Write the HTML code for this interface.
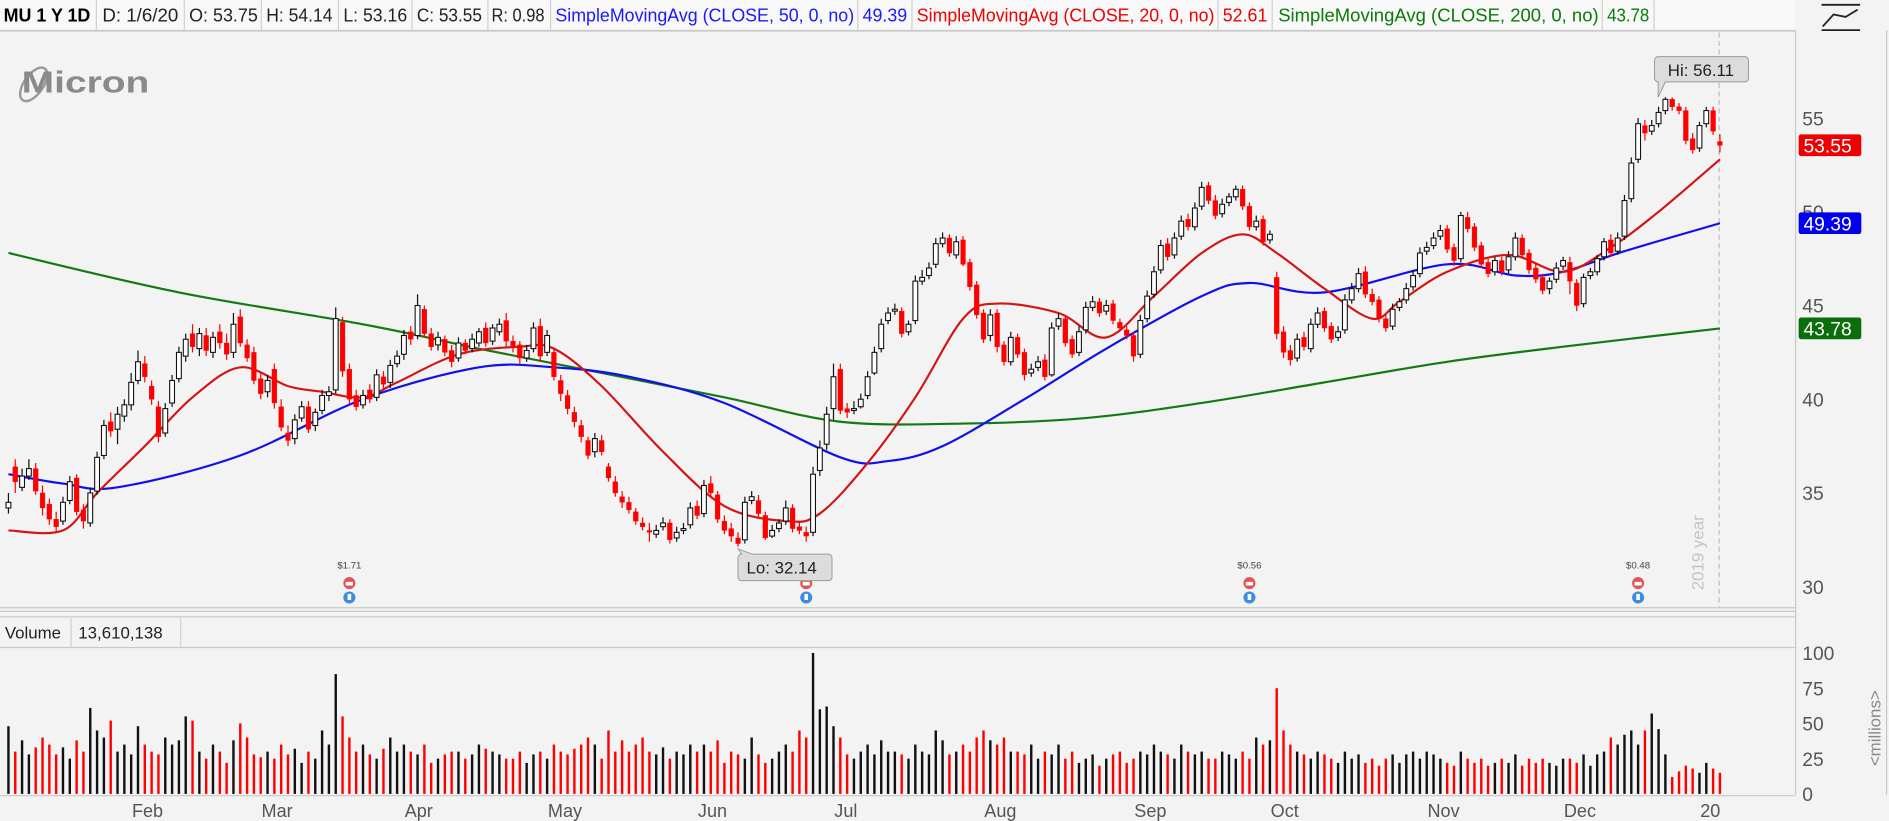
<!DOCTYPE html>
<html><head><meta charset="utf-8"><style>
html,body{margin:0;padding:0;background:#f3f3f3;overflow:hidden}
svg{display:block}
text{font-family:"Liberation Sans",sans-serif}
</style></head><body>
<svg id="chart" width="1889" height="821" viewBox="0 0 1568 681.5" preserveAspectRatio="none" xmlns="http://www.w3.org/2000/svg">
<rect x="0" y="0" width="1568" height="681.5" fill="#f3f3f3"/>
<g>
<rect x="0" y="0" width="1490" height="25" fill="#f8f8f8"/>
<line x1="0" y1="25.5" x2="1490" y2="25.5" stroke="#c8c8c8" stroke-width="1.5"/>
<text x="3" y="18" font-size="15" font-weight="bold" textLength="72" lengthAdjust="spacingAndGlyphs">MU 1 Y 1D</text>
<text x="85" y="18" font-size="15" fill="#222" textLength="63" lengthAdjust="spacingAndGlyphs">D: 1/6/20</text>
<text x="157" y="18" font-size="15" fill="#222" textLength="57" lengthAdjust="spacingAndGlyphs">O: 53.75</text>
<text x="221" y="18" font-size="15" fill="#222" textLength="55" lengthAdjust="spacingAndGlyphs">H: 54.14</text>
<text x="285" y="18" font-size="15" fill="#222" textLength="53" lengthAdjust="spacingAndGlyphs">L: 53.16</text>
<text x="346" y="18" font-size="15" fill="#222" textLength="54" lengthAdjust="spacingAndGlyphs">C: 53.55</text>
<text x="408" y="18" font-size="15" fill="#222" textLength="44" lengthAdjust="spacingAndGlyphs">R: 0.98</text>
<text x="461" y="18" font-size="15" fill="#1a1aff" textLength="248" lengthAdjust="spacingAndGlyphs">SimpleMovingAvg (CLOSE, 50, 0, no)</text>
<text x="716" y="18" font-size="15" fill="#1a1aff" textLength="37" lengthAdjust="spacingAndGlyphs">49.39</text>
<text x="761" y="18" font-size="15" fill="#e00" textLength="247" lengthAdjust="spacingAndGlyphs">SimpleMovingAvg (CLOSE, 20, 0, no)</text>
<text x="1015" y="18" font-size="15" fill="#e00" textLength="37" lengthAdjust="spacingAndGlyphs">52.61</text>
<text x="1061" y="18" font-size="15" fill="#0a7a0a" textLength="266" lengthAdjust="spacingAndGlyphs">SimpleMovingAvg (CLOSE, 200, 0, no)</text>
<text x="1334" y="18" font-size="15" fill="#0a7a0a" textLength="35" lengthAdjust="spacingAndGlyphs">43.78</text>
<g stroke="#d0d0d0" stroke-width="1">
<line x1="80" y1="0" x2="80" y2="25"/><line x1="153" y1="0" x2="153" y2="25"/><line x1="217" y1="0" x2="217" y2="25"/><line x1="281" y1="0" x2="281" y2="25"/><line x1="342" y1="0" x2="342" y2="25"/><line x1="405" y1="0" x2="405" y2="25"/><line x1="457" y1="0" x2="457" y2="25"/><line x1="712" y1="0" x2="712" y2="25"/><line x1="757" y1="0" x2="757" y2="25"/><line x1="1011" y1="0" x2="1011" y2="25"/><line x1="1056" y1="0" x2="1056" y2="25"/><line x1="1330" y1="0" x2="1330" y2="25"/><line x1="1373" y1="0" x2="1373" y2="25"/>
</g>
</g>
<g>
<ellipse cx="28" cy="70" rx="8" ry="16" transform="rotate(35 28 70)" fill="none" stroke="#999" stroke-width="2"/>
<text x="18" y="77" font-size="25" font-weight="bold" fill="#8a8a8a" textLength="106" lengthAdjust="spacingAndGlyphs">Micron</text>
</g>
<g stroke="#c8c8c8" fill="none">
<line x1="1490.5" y1="25" x2="1490.5" y2="660"/>
<line x1="0" y1="504.5" x2="1490" y2="504.5"/>
<line x1="0" y1="507.5" x2="1490" y2="507.5"/>
<line x1="0" y1="512" x2="1490" y2="512"/>
<line x1="0" y1="537.5" x2="1490" y2="537.5"/>
<line x1="0" y1="660.5" x2="1490" y2="660.5"/>
<line x1="1566" y1="25" x2="1566" y2="660"/>
</g>
<g stroke="#222" stroke-width="1.5" fill="none">
<line x1="1512" y1="4" x2="1544" y2="4"/><line x1="1512" y1="25" x2="1544" y2="25"/><path d="M1513 22 L1522 12 L1532 14 L1542 8"/>
</g>
<text x="4" y="530" font-size="14" fill="#222">Volume</text>
<line x1="59" y1="513" x2="59" y2="537" stroke="#d0d0d0"/>
<text x="65" y="530" font-size="14" fill="#222">13,610,138</text>
<line x1="150" y1="513" x2="150" y2="537" stroke="#d0d0d0"/>
<line x1="1427" y1="27" x2="1427" y2="504" stroke="#bbb" stroke-dasharray="4,3"/>
<text transform="translate(1414,490) rotate(-90)" font-size="14" fill="#c4c4c4">2019 year</text>
<text transform="translate(1561,636) rotate(-90)" font-size="14" fill="#888">&lt;millions&gt;</text>
<g id="plot"></g>
</svg>
<script>
const opens=[34.2,36.4,35.3,35.9,36.3,35.0,34.4,33.6,33.5,34.6,35.8,34.1,33.4,35.1,37.0,38.8,38.4,39.1,39.7,
41.0,41.9,40.7,39.6,38.2,39.8,41.1,42.3,43.5,42.7,43.4,42.5,43.6,43.0,42.5,44.4,42.9,42.5,41.1,
40.4,41.6,39.6,38.2,37.9,39.0,39.6,38.6,39.4,40.2,40.5,44.1,41.6,40.2,39.7,40.5,40.1,41.2,40.9,41.9,42.4,
43.6,43.4,44.8,43.5,42.9,43.2,42.6,42.2,43.0,42.7,43.0,43.8,43.1,43.6,44.2,43.1,42.9,42.2,42.7,43.9,42.5,
42.5,41.0,40.2,39.3,38.6,37.8,37.2,37.8,36.4,35.6,34.8,34.5,34.0,33.4,33.0,32.8,33.2,33.4,32.6,33.0,33.3,34.3,
33.9,35.5,34.9,33.5,33.1,32.6,32.5,34.6,34.6,33.8,32.7,33.1,33.5,34.2,33.2,32.9,32.9,36.2,37.6,39.5,
41.6,39.5,39.4,39.6,40.2,41.4,42.7,44.2,44.7,44.7,43.6,44.2,46.3,46.6,47.2,48.3,48.6,47.7,48.5,47.3,46.1,44.6,
43.4,44.6,42.9,42.0,43.3,42.5,41.4,41.7,42.1,41.3,43.9,44.3,43.2,42.5,43.7,44.9,45.2,44.7,45.1,44.1,43.7,43.4,
42.4,44.3,45.6,46.9,48.3,47.7,48.7,49.6,49.2,50.3,51.4,50.6,49.9,50.5,50.8,51.2,50.3,49.2,49.6,48.5,
46.5,43.6,42.6,42.2,43.3,42.7,44.0,44.7,43.9,43.3,43.7,45.3,45.9,46.8,45.6,45.3,44.3,43.9,44.9,45.3,46.0,46.7,47.9,
48.2,48.7,49.1,48.1,47.5,49.7,49.2,48.2,47.3,46.8,47.4,46.9,47.6,48.6,47.8,47.0,46.5,45.9,46.4,47.1,
47.3,46.2,45.1,46.6,46.8,47.6,48.5,47.9,48.7,50.7,52.8,54.6,54.3,54.7,55.4,56.0,55.6,55.4,53.9,53.4,
54.7,55.4,53.75];
const highs=[35.0,36.8,36.3,36.8,36.6,35.4,34.7,34.0,34.8,35.9,36.0,34.4,35.3,37.2,38.9,39.3,39.6,40.0,41.4,
42.6,42.3,41.0,39.9,39.8,41.3,42.8,43.5,44.0,43.8,43.8,43.6,44.0,43.5,44.6,44.8,43.2,42.8,41.4,
41.3,41.9,40.0,38.6,39.2,39.9,39.9,39.5,40.5,40.7,44.9,44.4,41.9,40.5,40.5,40.8,41.6,41.5,42.1,42.6,43.7,
43.9,45.6,45.0,43.8,43.6,43.4,42.9,43.3,43.2,43.5,43.8,44.1,44.0,44.3,44.6,43.4,43.1,42.9,44.1,44.3,43.7,
42.7,41.3,40.5,39.6,38.9,38.0,38.2,38.1,36.6,35.9,35.1,34.8,34.2,33.7,33.4,33.3,33.7,33.6,33.2,33.4,34.5,34.6,
35.7,35.9,35.1,33.8,33.4,32.9,34.8,35.1,34.9,34.0,33.3,33.6,34.6,34.4,33.5,33.2,36.4,37.8,39.6,41.9,
41.9,39.8,39.9,40.3,41.5,42.8,44.3,44.9,45.1,44.9,44.2,46.6,46.9,47.3,48.6,48.9,48.8,48.7,48.7,47.5,46.3,44.8,
44.8,44.8,43.1,43.6,43.5,42.7,41.9,42.3,42.4,44.1,44.6,44.5,43.4,43.9,45.2,45.5,45.4,45.3,45.3,44.3,43.9,43.6,
44.5,45.8,47.1,48.5,48.6,48.9,49.8,49.9,50.5,51.6,51.6,50.9,50.7,51.0,51.4,51.4,50.5,49.8,49.8,49.0,
46.8,43.9,42.9,43.5,43.6,44.3,44.9,44.9,44.1,43.9,45.6,46.2,47.0,47.1,45.9,45.5,44.5,45.1,45.4,46.2,46.9,48.1,48.4,
48.9,49.3,49.3,48.3,50.0,50.0,49.4,48.4,47.5,47.6,47.6,47.9,48.9,48.8,48.0,47.2,46.7,46.5,47.3,47.6,
47.6,46.4,46.7,47.0,47.7,48.6,48.8,48.9,50.9,52.9,55.0,54.9,54.9,55.6,56.11,56.1,55.8,55.6,54.2,54.8,
55.6,55.6,54.14];
const lows=[33.9,35.0,35.1,35.7,34.9,33.8,33.3,32.9,33.3,34.4,33.8,33.1,33.2,34.9,36.8,38.0,37.6,38.8,39.4,
40.8,40.9,39.7,37.7,38.0,39.6,40.9,42.0,42.5,42.3,42.3,42.2,42.7,42.1,42.2,42.8,42.0,40.8,40.0,
40.1,39.5,38.3,37.5,37.6,38.8,38.2,38.3,39.2,39.9,40.3,41.2,39.7,39.4,39.5,39.8,39.9,40.6,40.6,41.7,42.1,
42.9,43.2,43.3,42.6,42.6,42.3,41.7,42.0,42.4,42.5,42.8,42.8,42.9,43.4,42.8,42.5,41.9,42.0,42.5,42.0,42.3,
41.0,39.9,39.2,38.5,37.7,36.8,36.9,37.0,35.6,34.8,34.2,33.9,33.3,33.0,32.4,32.6,33.0,32.3,32.4,32.8,33.1,33.6,
33.7,34.8,33.4,32.8,32.4,32.14,32.3,34.4,33.7,32.5,32.6,32.9,33.3,32.9,32.8,32.4,32.7,35.9,37.3,38.9,
39.2,39.0,39.2,39.5,40.0,41.3,42.5,44.0,44.5,43.3,43.4,44.0,46.1,46.4,47.0,48.1,47.6,47.5,47.1,45.8,44.3,43.0,
43.1,42.5,41.8,41.8,42.2,41.0,41.2,41.5,41.0,41.2,43.7,42.8,42.2,42.3,43.5,44.7,44.4,44.5,44.0,43.6,43.2,42.0,
42.2,44.1,45.4,46.7,47.4,47.5,48.5,49.0,49.0,50.1,50.4,49.6,49.7,50.3,50.6,50.1,49.0,49.0,48.2,48.3,
43.2,42.2,41.8,42.0,42.6,42.5,43.8,43.6,43.0,43.1,43.5,45.1,45.7,45.4,45.0,44.1,43.6,43.7,44.7,45.1,45.8,46.5,47.7,
48.0,48.5,47.8,47.1,47.3,48.9,47.9,47.0,46.5,46.6,46.6,46.7,47.4,47.5,46.7,46.2,45.6,45.6,46.2,46.9,
45.6,44.7,44.9,46.4,46.6,47.4,47.6,47.7,48.5,50.5,52.6,53.8,54.1,54.5,55.2,55.4,55.2,53.6,53.1,53.2,
54.5,54.1,53.16];
const closes=[34.5,35.6,35.9,36.3,35.1,34.2,33.6,33.2,34.5,35.6,34.0,33.5,35.0,36.9,38.6,38.3,39.2,39.7,40.9,
42.0,41.2,40.0,38.0,39.5,41.0,42.5,43.2,42.8,43.5,42.6,43.3,43.0,42.4,44.0,43.0,42.2,41.0,40.3,
41.0,39.8,38.5,37.8,38.9,39.6,38.4,39.3,40.2,40.4,44.3,41.5,40.0,39.6,40.2,40.0,41.3,40.8,41.8,42.3,43.4,
43.2,45.0,43.5,42.8,43.3,42.5,42.0,43.0,42.6,43.2,43.6,43.0,43.8,44.0,43.1,42.8,42.2,42.6,43.8,42.3,43.4,
41.2,40.3,39.5,38.8,38.0,37.0,37.9,37.2,35.8,35.0,34.5,34.1,33.5,33.2,32.9,33.0,33.4,32.5,32.9,33.1,34.2,33.8,
35.4,35.0,33.6,33.0,32.7,32.3,34.5,34.8,33.9,32.6,33.0,33.4,34.2,33.1,33.0,32.7,36.0,37.4,39.2,41.2,
39.4,39.3,39.5,40.0,41.2,42.5,44.0,44.6,44.8,43.5,44.0,46.3,46.5,47.0,48.3,48.6,47.8,48.4,47.2,46.0,44.5,43.2,
44.5,42.8,42.0,43.3,42.4,41.3,41.6,42.0,41.2,43.8,44.3,43.0,42.4,43.6,44.9,45.2,44.6,45.0,44.2,43.8,43.4,42.3,
44.2,45.5,46.8,48.2,47.6,48.6,49.5,49.2,50.2,51.3,50.6,49.8,50.4,50.8,51.2,50.3,49.2,49.5,48.4,48.8,
43.5,42.5,42.1,43.2,42.8,44.0,44.6,43.8,43.2,43.6,45.3,45.9,46.7,45.6,45.2,44.3,43.8,44.8,45.2,45.9,46.6,47.8,48.1,
48.6,49.0,48.0,47.4,49.8,49.1,48.1,47.2,46.7,47.4,46.8,47.6,48.6,47.7,46.9,46.4,45.8,46.3,47.0,47.4,
46.3,45.0,46.5,46.8,47.5,48.4,47.8,48.6,50.6,52.6,54.7,54.2,54.6,55.3,56.0,55.6,55.4,53.8,53.3,54.6,
55.4,54.3,53.55];
const volumes=[48,30,38,28,33,40,35,28,33,25,38,30,61,45,40,52,30,35,28,
48,35,30,28,40,35,38,55,52,30,25,35,30,22,38,50,40,28,26,
30,25,35,28,32,22,30,25,45,35,85,55,40,30,35,28,25,32,40,30,35,
30,28,35,22,25,28,30,30,25,28,35,32,30,28,25,25,30,22,28,30,25,
35,30,28,32,35,40,35,25,45,30,38,30,35,40,30,28,33,25,30,28,35,30,
35,30,38,22,30,28,25,40,28,22,25,30,35,30,45,40,100,60,62,48,
40,28,25,30,35,28,38,30,30,28,25,35,30,28,45,38,28,30,35,30,40,45,
38,35,40,30,30,28,35,25,30,28,35,25,30,22,25,28,20,25,28,30,22,25,
30,28,35,30,28,25,35,30,28,30,25,25,30,28,25,30,25,40,35,38,
75,45,35,30,28,25,30,28,25,22,30,25,28,22,25,20,25,28,22,28,30,25,30,
28,25,22,20,30,25,22,25,20,22,25,22,28,20,25,22,25,22,20,25,
25,22,28,20,28,30,40,35,42,45,35,45,57,46,28,12,16,20,18,15,
22,18,15];
const sma200Days=[0,25,52,69,87,105,122,140,158,175,193,211,228,251];
const sma200Vals=[47.8,45.7,44.0,42.7,41.4,40.1,38.8,38.7,39.0,39.8,40.9,42.0,42.8,43.78];
const sma50Days=[0,8,16,34,52,69,80,91,105,122,129,137,149,161,175,182,193,211,221,228,237,251];
const sma50Vals=[36,35.5,35.3,37,40,41.7,41.7,41.2,39.8,36.9,36.7,37.5,40,42.7,45.5,46.2,45.7,47.2,46.6,46.8,47.9,49.39];
const sma20Days=[0,8,13,20,27,34,41,46,52,57,66,75,80,87,96,105,114,119,126,133,140,145,154,161,168,175,181,186,193,200,204,211,220,228,235,242,251];
const sma20Vals=[33,33,35,37.5,40.1,41.7,40.7,40.4,40.1,40.9,42.4,42.8,42.7,40.7,37.2,34.3,33.5,33.9,36.6,40.1,44.3,45.1,44.6,43.3,45.5,47.8,48.8,47.8,45.9,44.3,45.2,46.8,47.7,46.8,48.1,50,52.8];
const priceTicks=[55,50,45,40,35,30];
const volTicks=[100,75,50,25,0];
const monthLabels=["Feb","Mar","Apr","May","Jun","Jul","Aug","Sep","Oct","Nov","Dec","20"];
const monthStartDays=[19,38,59,80,102,122,144,166,186,209,229,249];
const eventDays=[50,117,182,239];
const eventLabels=["$1.71","","$0.56","$0.48"];

const NS="http://www.w3.org/2000/svg";
const plot=document.getElementById('plot');
const X=i=>7+i*5.66;
const Y=p=>487-(p-30)*15.56;
const VY=v=>659-v*1.17;
function mk(tag,attrs,parent){const e=document.createElementNS(NS,tag);for(const k in attrs)e.setAttribute(k,attrs[k]);(parent||plot).appendChild(e);return e;}

priceTicks.forEach(t=>{const e=mk('text',{x:1496,y:Y(t)+6,'font-size':16,fill:'#555'});e.textContent=t;

});
volTicks.forEach(t=>{const e=mk('text',{x:1496,y:VY(t)+6,'font-size':16,fill:'#555'});e.textContent=t;

});
monthLabels.forEach((m,k)=>{const e=mk('text',{x:X(monthStartDays[k])-5,y:678,'font-size':15,fill:'#555'});e.textContent=m;

});

volumes.forEach((v,i)=>{const up=closes[i]>=opens[i];
const b=mk('rect',{x:X(i)-1,y:VY(v),width:2,height:VY(0)-VY(v),fill:up?'#111':'#f00'});

});

function line(days,vals,color,name){
const P=days.map((dd,k)=>[X(dd),Y(vals[k])]);
let d='M'+P[0][0].toFixed(1)+' '+P[0][1].toFixed(1);
for(let k=0;k<P.length-1;k++){const p0=P[Math.max(0,k-1)],p1=P[k],p2=P[k+1],p3=P[Math.min(P.length-1,k+2)];
const c1=[p1[0]+(p2[0]-p0[0])/6,p1[1]+(p2[1]-p0[1])/6],c2=[p2[0]-(p3[0]-p1[0])/6,p2[1]-(p3[1]-p1[1])/6];
d+=` C${c1[0].toFixed(1)} ${c1[1].toFixed(1)} ${c2[0].toFixed(1)} ${c2[1].toFixed(1)} ${p2[0].toFixed(1)} ${p2[1].toFixed(1)}`;}
const p=mk('path',{d:d,fill:'none',stroke:color,'stroke-width':1.8,'stroke-linejoin':'round'});

}
line(sma200Days,sma200Vals,'#137a13','sma200-line');
line(sma50Days,sma50Vals,'#1010ee','sma50-line');
line(sma20Days,sma20Vals,'#d41414','sma20-line');

closes.forEach((c,i)=>{const o=opens[i],up=c>=o,col=up?'#111':'#f00';
const g=mk('g',{});


mk('line',{x1:X(i),x2:X(i),y1:Y(highs[i]),y2:Y(lows[i]),stroke:col,'stroke-width':1},g);
const top=Y(Math.max(o,c)),h=Math.max(1.2,Y(Math.min(o,c))-top);
mk('rect',{x:X(i)-2,y:top,width:4,height:h,fill:up?'#fff':'#f00',stroke:col,'stroke-width':up?0.9:0.3},g);});

eventDays.forEach((d,k)=>{const x=X(d);
const g=mk('g',{});


if(eventLabels[k]){const t=mk('text',{x:x,y:472,'font-size':8,'text-anchor':'middle',fill:'#444'},g);t.textContent=eventLabels[k];}
mk('circle',{cx:x,cy:484,r:5,fill:'#e25555'},g);
mk('rect',{x:x-3,y:483,width:6,height:3,fill:'#fff'},g);
mk('circle',{cx:x,cy:496,r:5,fill:'#3a8de0'},g);
mk('rect',{x:x-1.5,y:493,width:3,height:5,fill:'#fff'},g);});

let hiI=0,loI=0;highs.forEach((h,i)=>{if(h>highs[hiI])hiI=i;});lows.forEach((l,i)=>{if(l<lows[loI])loI=i;});
(function(){const x=X(hiI),y=Y(highs[hiI]);const g=mk('g',{});


mk('path',{d:`M${x-6} 47 h72 a3 3 0 0 1 3 3 v15 a3 3 0 0 1 -3 3 h-66 l-6 ${y-68} l0 ${68-y} a3 3 0 0 1 -3 -3 v-15 a3 3 0 0 1 3 -3 z`,fill:'#dcdcdc',stroke:'#999','stroke-width':0.8},g);
const t=mk('text',{x:x+2,y:63,'font-size':14,fill:'#222'},g);t.textContent='Hi: '+highs[hiI].toFixed(2);})();
(function(){const x=X(loI),y=Y(lows[loI]);const g=mk('g',{});


mk('path',{d:`M${x+3} 460 L${x} ${y+2} L${x+12} 460 h63 a3 3 0 0 1 3 3 v16 a3 3 0 0 1 -3 3 h-72 a3 3 0 0 1 -3 -3 v-16 a3 3 0 0 1 3 -3 z`,fill:'#dcdcdc',stroke:'#999','stroke-width':0.8},g);
const t=mk('text',{x:x+7,y:476,'font-size':14,fill:'#222'},g);t.textContent='Lo: '+lows[loI].toFixed(2);})();

function tag(v,color,name){const y=Y(v);const g=mk('g',{});


mk('rect',{x:1493,y:y-9,width:52,height:18,rx:2,fill:color},g);
const t=mk('text',{x:1497,y:y+6,'font-size':16,fill:'#fff'},g);t.textContent=v.toFixed(2);}
tag(sma200Vals[sma200Vals.length-1],'#0a6e0a','sma200-tag');
tag(sma50Vals[sma50Vals.length-1],'#0000ee','sma50-tag');
tag(closes[closes.length-1],'#ee0000','last-price-tag');
</script>
</body></html>
